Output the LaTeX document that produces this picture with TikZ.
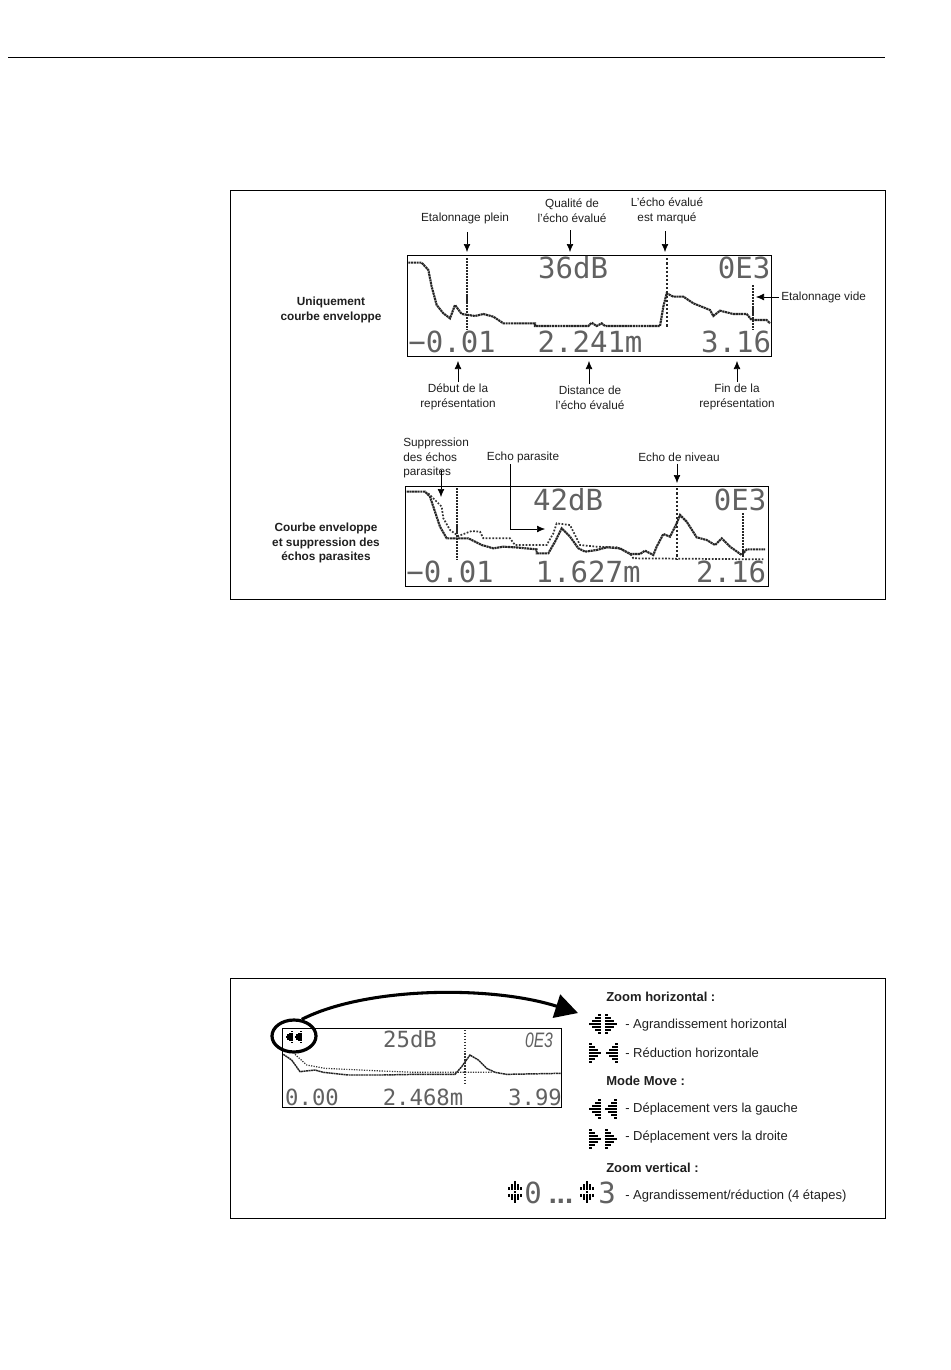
\documentclass[tikz,border=0pt]{standalone}
\usepackage{fontspec}
\setmainfont{Liberation Sans}
\setmonofont{DejaVu Sans Mono}
\usetikzlibrary{arrows.meta,shapes.geometric}
\tikzset{
  lbl/.style={font=\fontsize{8.85}{11}\selectfont,align=center,inner sep=0pt,text=black!88},
  boldlbl/.style={lbl,font=\fontsize{8.85}{11}\selectfont\bfseries},
  listlbl/.style={lbl,anchor=west,font=\fontsize{9.75}{12}\selectfont},
  listhead/.style={lbl,anchor=west,font=\fontsize{9.75}{12}\selectfont\bfseries},
  lcdtext/.style={font=\ttfamily\fontsize{21.8}{22}\selectfont,inner sep=0pt,text=black!62,anchor=base},
  lcdsmall/.style={font=\ttfamily\fontsize{16.7}{17}\selectfont,inner sep=0pt,text=black!62,anchor=base},
  lcdbox/.style={draw,line width=.75pt,inner sep=0pt,anchor=north west},
  curve/.style={line width=1.6pt,black!85,dash pattern=on 1.6pt off .45pt},
  dotcurve/.style={line width=1.3pt,black!80,dash pattern=on 1.3pt off 1.2pt},
  cursor/.style={line width=1.6pt,black!85,dash pattern=on 1.6pt off .6pt},
  dotmark/.style={line width=1.6pt,black!85,dash pattern=on 1.6pt off 1.5pt},
  dotleft/.pic={
    \foreach \col/\hh in {0/0,1/1,2/2,3/3}{
      \foreach \r in {-\hh,...,\hh}{
        \fill (\col*3-5.7,\r*3-1.35) rectangle +(2.7,2.7);
      }
    }
  },
  dotupdown/.pic={
    \foreach \r/\hh in {-3/0,-2/1,-1/2,0/0,1/2,2/1,3/0}{
      \foreach \col in {-\hh,...,\hh}{
        \fill (\col*3-1.35,\r*3.2-1.35) rectangle +(2.7,2.7);
      }
    }
  },
}
\begin{document}
\begin{tikzpicture}[x=.75pt,y=-.75pt,>={Latex[length=6pt,width=5pt]}]
\useasboundingbox (0,0) rectangle (950,1370);
\draw[line width=.6pt] (8,57) -- (885,57);
\draw[line width=.6pt] (230,190) rectangle (885,599);
\draw[line width=.6pt] (230,978) rectangle (885,1218);

% first display
\node[lcdbox,minimum width=273pt,minimum height=75.75pt] (lcda) at (407,255) {};
\node[lcdtext] (da1) at (573,278) {36dB};
\node[lcdtext] (da2) at (744,278) {0E3};
\node[lcdtext] (da3) at (452,352) {−0.01};
\node[lcdtext] (da4) at (590,352) {2.241m};
\node[lcdtext] (da5) at (736,352) {3.16};
\begin{scope}[shift={(400,190)},x=.25pt,y=-.25pt]
\draw[curve] (25,218) -- (65,218) -- (85,240) -- (95,290) -- (110,345) -- (130,370) -- (150,385) -- (165,345) -- (185,372) -- (225,378) -- (250,372) -- (280,380) -- (310,400) -- (405,400) -- (405,408) -- (565,408) -- (575,398) -- (590,408) -- (605,400) -- (615,408) -- (780,408) -- (790,350) -- (800,310) -- (820,320) -- (850,320) -- (880,340) -- (930,360) -- (940,378) -- (960,362) -- (1000,372) -- (1040,372) -- (1055,390) -- (1100,390) -- (1110,400);
\draw[cursor] (200,205) -- (200,420);
\draw[dotmark] (800,205) -- (800,415);
\draw[cursor] (1058,285) -- (1058,420);
\end{scope}

% labels of the first display
\node[lbl] (plein) at (465,218) {Etalonnage plein};
\node[lbl] (qual) at (572,211) {Qualité de\\l’écho évalué};
\node[lbl] (marq) at (667,211) {L’écho évalué\\est marqué};
\node[lbl,anchor=west] (vide) at (781,297) {Etalonnage vide};
\node[lbl] (debut) at (458,397) {Début de la\\représentation};
\node[lbl] (dist) at (590,398) {Distance de\\l’écho évalué};
\node[lbl] (fin) at (737,397) {Fin de la\\représentation};
\node[boldlbl] (uniq) at (331,310) {Uniquement\\courbe enveloppe};
\coordinate (pleinT) at (467,252);
\coordinate (qualT) at (570,252);
\coordinate (marqT) at (665,252);
\coordinate (videT) at (756,297);
\coordinate (debutT) at (458,361);
\coordinate (distT) at (589,361);
\coordinate (finT) at (737,361);
\draw[->] (plein.south -| pleinT) ++(0,8) -- (pleinT);
\draw[->] (qual.south -| qualT) ++(0,7) -- (qualT);
\draw[->] (marq.south -| marqT) ++(0,7) -- (marqT);
\draw[->] (vide.west) ++(-2,0) -- (videT);
\draw[->] (debut.north) ++(0,-2) -- (debutT);
\draw[->] (dist.north -| distT) ++(0,-2) -- (distT);
\draw[->] (fin.north) ++(0,-2) -- (finT);

% second display
\node[lcdbox,minimum width=272.25pt,minimum height=75pt] (lcdb) at (405,486) {};
\node[lcdtext] (db1) at (568,510) {42dB};
\node[lcdtext] (db2) at (740,510) {0E3};
\node[lcdtext] (db3) at (450,582) {−0.01};
\node[lcdtext] (db4) at (588,582) {1.627m};
\node[lcdtext] (db5) at (731,582) {2.16};
\begin{scope}[shift={(400,430)},x=.25pt,y=-.25pt]
\draw[curve] (20,185) -- (75,185) -- (90,200) -- (105,245) -- (120,290) -- (140,325) -- (205,325) -- (245,345) -- (280,355) -- (310,350) -- (345,352) -- (410,358) -- (410,370) -- (445,370) -- (465,335) -- (485,295) -- (510,320) -- (535,355) -- (555,365) -- (590,360) -- (620,352) -- (660,355) -- (690,372) -- (720,372) -- (735,362) -- (760,375) -- (770,350) -- (790,312) -- (810,320) -- (830,280) -- (840,255) -- (860,275) -- (890,322) -- (920,330) -- (945,345) -- (965,325) -- (990,350) -- (1025,375) -- (1040,358) -- (1095,358);
\draw[dotcurve] (85,190) -- (125,230) -- (130,265) -- (150,300) -- (175,318) -- (215,303) -- (240,305) -- (250,325) -- (330,325) -- (345,345) -- (440,345) -- (460,310) -- (470,280) -- (510,285) -- (525,315) -- (540,345) -- (590,350) -- (650,352) -- (690,370) -- (700,385) -- (1090,388);
\draw[cursor] (172,175) -- (172,390);
\draw[dotmark] (832,175) -- (832,390);
\draw[cursor] (1030,250) -- (1030,380);
\end{scope}

% labels of the second display
\node[lbl,anchor=west,align=left] (supp) at (403,458) {Suppression\\des échos\\parasites};
\node[lbl] (parasite) at (523,457) {Echo parasite};
\node[lbl] (niveau) at (679,457) {Echo de niveau};
\node[boldlbl] (courbe) at (326,543) {Courbe enveloppe\\et suppression des\\échos parasites};
\coordinate (suppS) at (441,470);
\coordinate (suppT) at (441,497);
\coordinate (parasiteS) at (510,464);
\coordinate (parasiteT) at (545,529);
\coordinate (niveauT) at (677,483);
\draw[->] (suppS) -- (suppT);
\draw[->] (parasiteS) |- (parasiteT);
\draw[->] (niveau.south -| niveauT) ++(0,2) -- (niveauT);

% third display
\node[lcdbox,minimum width=209.25pt,minimum height=59.25pt] (lcdc) at (282,1028) {};
\node[lcdsmall] (dc1) at (410,1047) {25dB};
\node[lcdsmall,font=\fontsize{15.7}{16}\selectfont\itshape] (dc2) at (539,1047) {\scalebox{.75}[1]{0E3}};
\node[lcdsmall] (dc3) at (312,1105) {0.00};
\node[lcdsmall] (dc4) at (423,1105) {2.468m};
\node[lcdsmall] (dc5) at (535,1105) {3.99};
\begin{scope}[shift={(265,985)},x=.25pt,y=-.25pt]
\draw[line width=1.1pt,black!85,dash pattern=on 1.5pt off .4pt] (55,208) -- (80,225) -- (105,260) -- (150,255) -- (175,262) -- (250,270) -- (350,270) -- (455,268) -- (570,268) -- (590,245) -- (615,210) -- (640,225) -- (665,250) -- (690,262) -- (725,268) -- (888,265);
\draw[line width=.9pt,black!80,dash pattern=on .9pt off 1pt] (90,208) -- (125,240) -- (180,250) -- (350,258) -- (450,262) -- (680,262);
\draw[line width=1.1pt,black!80,dash pattern=on 1.1pt off 1.1pt] (600,135) -- (600,300);
\end{scope}
\pic[scale=.6] at (289,1037) {dotleft};
\pic[scale=.6] at (298,1037) {dotleft};
\node[draw,ellipse,line width=2.4pt,minimum width=33pt,minimum height=24pt,inner sep=0pt] (oval) at (294,1036) {};
\coordinate (ovalT) at (578,1013);
\draw[-{Triangle[length=17pt,width=18pt]},line width=2.3pt] (oval.65) .. controls (365,987) and (490,985) .. (ovalT);

% right hand list
\node[listhead] (zoomh) at (606,997) {Zoom horizontal :};
\node[listlbl] (agr) at (625,1025) {- Agrandissement horizontal};
\node[listlbl] (red) at (625,1053) {- Réduction horizontale};
\node[listhead] (move) at (606,1081) {Mode Move :};
\node[listlbl] (gauche) at (625,1109) {- Déplacement vers la gauche};
\node[listlbl] (droite) at (625,1137) {- Déplacement vers la droite};
\node[listhead] (zoomv) at (606,1168) {Zoom vertical :};
\node[listlbl] (etapes) at (625,1196) {- Agrandissement/réduction (4 étapes)};
\foreach \px/\py/\fl in {595/1024/1,611/1024/-1,595/1053/-1,612/1053/1,595/1109/1,611/1109/1,595/1139/-1,611/1139/-1}{
  \pic[xscale=\fl] at (\px,\py) {dotleft};
}
\pic at (515,1192) {dotupdown};
\pic at (587,1192) {dotupdown};
\node[lcdtext] (vz0) at (533,1203) {0};
\node[lcdtext,font=\fontsize{21.8}{22}\selectfont\bfseries] (vzd) at (561,1203) {...};
\node[lcdtext] (vz3) at (607,1203) {3};
\end{tikzpicture}
\end{document}
